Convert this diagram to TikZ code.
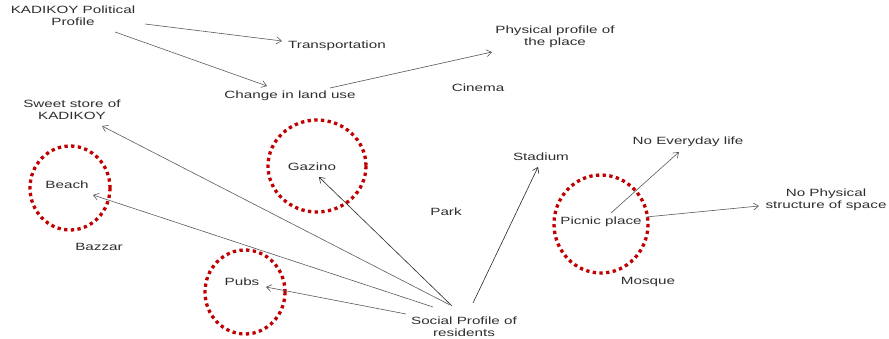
\documentclass[tikz,border=0pt]{standalone}
\usepackage{fontspec}
\setmainfont{Liberation Sans}[FakeStretch=1.45]
\usetikzlibrary{arrows.meta}
\definecolor{txt}{HTML}{2E2E2E}
\definecolor{ln}{HTML}{5A5A5A}
\definecolor{ringred}{HTML}{C00000}
\begin{document}
\begin{tikzpicture}[x=1pt,y=-1pt,
  lbl/.style={inner sep=0pt,align=center,text=txt,font=\fontsize{10.5}{12}\selectfont},
  arr/.style={draw=ln,line width=0.6pt,-{Straight Barb[length=5pt,width=7pt]}},
  darr/.style={arr,draw=black!85},
  ring/.style={draw=ringred,line width=3.3pt,dash pattern=on 3.3pt off 3.4pt}]
\useasboundingbox (0,0) rectangle (889,339);
% circles
\draw[ring] (70,188) ellipse [x radius=40,y radius=42];
\draw[ring] (317,166) ellipse [x radius=49,y radius=46];
\draw[ring] (245,292) ellipse [x radius=40,y radius=42];
\draw[ring] (601,224) ellipse [x radius=47,y radius=49];
% nodes
\node[lbl] (pol) at (73,16) {KADIKOY Political\\Profile};
\node[lbl] (trans) at (337,46) {Transportation};
\node[lbl] (change) at (290,96) {Change in land use};
\node[lbl] (phys) at (555,37) {Physical profile of\\the place};
\node[lbl] (cinema) at (478,88) {Cinema};
\node[lbl] (sweet) at (72,110) {Sweet store of\\KADIKOY};
\node[lbl] (beach) at (67,185) {Beach};
\node[lbl] (bazzar) at (99,247) {Bazzar};
\node[lbl] (gazino) at (312,167) {Gazino};
\node[lbl] (park) at (446,212) {Park};
\node[lbl] (pubs) at (242,282) {Pubs};
\node[lbl] (social) at (464,327) {Social Profile of\\residents};
\node[lbl] (stadium) at (541,157) {Stadium};
\node[lbl] (noeveryday) at (688,142) {No Everyday life};
\node[lbl] (nophys) at (826,200) {No Physical\\structure of space};
\node[lbl] (picnic) at (601,222) {Picnic place};
\node[lbl] (mosque) at (648,282) {Mosque};
% connectors
\draw[arr] ([shift={(72,8)}]pol.center) -- ([shift={(-55,-5)}]trans.center);
\draw[arr] ([shift={(42,16)}]pol.center) -- ([shift={(-23,-10)}]change.center);
\draw[arr] ([shift={(40,-8)}]change.center) -- ([shift={(-63,15)}]phys.center);
\draw[arr] ([shift={(-14,-22)}]social.center) -- ([shift={(30,16)}]sweet.center);
\draw[arr] ([shift={(-31,-20)}]social.center) -- ([shift={(26,10)}]beach.center);
\draw[darr] ([shift={(-12,-21)}]social.center) -- ([shift={(7,10)}]gazino.center);
\draw[arr] ([shift={(-58,-13)}]social.center) -- ([shift={(24,5)}]pubs.center);
\draw[darr] ([shift={(9,-24)}]social.center) -- ([shift={(-3,10)}]stadium.center);
\draw[arr] ([shift={(10,-9)}]picnic.center) -- ([shift={(-9,10)}]noeveryday.center);
\draw[arr] ([shift={(45,-5)}]picnic.center) -- ([shift={(-67,6)}]nophys.center);
\end{tikzpicture}
\end{document}
